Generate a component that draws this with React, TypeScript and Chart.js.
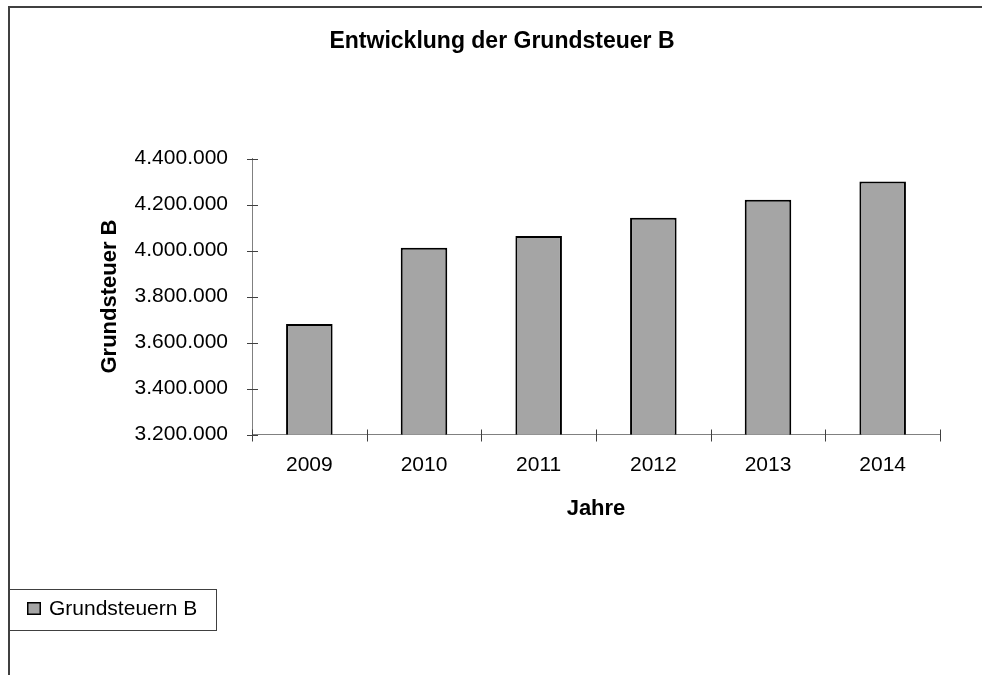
import React, { useEffect, useRef } from 'react';
import { Chart, registerables } from 'chart.js';

Chart.register(...registerables);

// Jahre und Aufkommen der Grundsteuer B
const years = ['2009', '2010', '2011', '2012', '2013', '2014'];
const grundsteuerB = [3680000, 4012000, 4063000, 4142000, 4221000, 4300000];

// Achsenbereich
const yMin = 3200000;
const yMax = 4400000;
const yStep = 200000;

const seriesLabel = 'Grundsteuern B';
const chartTitle = 'Entwicklung der Grundsteuer B';
const yTitle = 'Grundsteuer B';
const xTitle = 'Jahre';

const FONT = "'Liberation Sans', Arial, Helvetica, sans-serif";
const BAR_FILL = '#a5a5a5';
const AXIS_COLOR = '#808080';
const FRAME_COLOR = '#404040';

function formatDe(v: number): string {
  return Math.round(v)
    .toString()
    .replace(/\B(?=(\d{3})+(?!\d))/g, '.');
}

// white page plus the dark frame running along the top and left edge
const framePlugin = {
  id: 'frame',
  beforeDraw(chart: Chart) {
    const { ctx, width, height } = chart;
    ctx.save();
    ctx.fillStyle = '#ffffff';
    ctx.fillRect(0, 0, width, height);
    ctx.fillStyle = FRAME_COLOR;
    ctx.fillRect(8, 6, width - 8, 2);
    ctx.fillRect(8, 6, 2, height - 6);
    ctx.restore();
  },
};

// short tick marks that cross both axes
const crossTicksPlugin = {
  id: 'crossTicks',
  beforeDatasetsDraw(chart: Chart) {
    const { ctx } = chart;
    const ys = chart.scales.y;
    const xs = chart.scales.x;
    ctx.save();
    ctx.strokeStyle = '#404040';
    ctx.lineWidth = 1;
    ctx.beginPath();
    const ax = Math.round(ys.right) + 0.5;
    ys.ticks.forEach((_t, i) => {
      const py = Math.round(ys.getPixelForTick(i)) + 0.5;
      ctx.moveTo(ax - 5.5, py);
      ctx.lineTo(ax + 5.5, py);
    });
    const n = (chart.data.labels || []).length;
    const by = Math.round(xs.top) + 0.5;
    for (let i = 0; i <= n; i++) {
      const px = Math.round(xs.left + (i * xs.width) / n) + 0.5;
      ctx.moveTo(px, by - 6);
      ctx.lineTo(px, by + 6);
    }
    ctx.stroke();
    ctx.restore();
  },
};

// boxed legend in the lower left corner
const boxLegendPlugin = {
  id: 'boxLegend',
  afterDraw(chart: Chart) {
    const { ctx } = chart;
    const ds: any = chart.data.datasets[0];
    ctx.save();
    ctx.strokeStyle = FRAME_COLOR;
    ctx.lineWidth = 1;
    ctx.strokeRect(8.5, 589.5, 208, 41);
    ctx.fillStyle = ds.backgroundColor;
    ctx.fillRect(27, 602, 14, 13);
    ctx.strokeStyle = '#000000';
    ctx.lineWidth = 1.5;
    ctx.strokeRect(27.75, 602.75, 12.5, 11.5);
    ctx.fillStyle = '#000000';
    ctx.font = `21px ${FONT}`;
    ctx.textBaseline = 'middle';
    ctx.textAlign = 'left';
    ctx.fillText(ds.label, 49, 609);
    ctx.restore();
  },
};

export default function App() {
  const canvasRef = useRef<HTMLCanvasElement | null>(null);

  useEffect(() => {
    const canvas = canvasRef.current;
    if (!canvas) return;
    const chart = new Chart(canvas, {
      type: 'bar',
      data: {
        labels: years,
        datasets: [
          {
            label: seriesLabel,
            data: grundsteuerB,
            backgroundColor: BAR_FILL,
            borderColor: '#000000',
            borderWidth: 2,
            borderSkipped: false,
            categoryPercentage: 1,
            barPercentage: 0.406,
          },
        ],
      },
      options: {
        responsive: false,
        animation: false,
        devicePixelRatio: 1,
        layout: {
          padding: { left: 64, right: 42, top: 0, bottom: 140.5 },
        },
        plugins: {
          legend: { display: false },
          tooltip: { enabled: false },
          title: {
            display: true,
            text: chartTitle,
            color: '#000000',
            font: { family: FONT, size: 23, weight: 'bold', lineHeight: 1.2 },
            padding: { top: 28, bottom: 102.9 },
          },
        },
        scales: {
          x: {
            grid: { display: false, drawTicks: false },
            border: { display: true, color: AXIS_COLOR, width: 1 },
            ticks: {
              color: '#000000',
              font: { family: FONT, size: 21 },
              padding: 18,
              maxRotation: 0,
            },
            title: {
              display: true,
              text: xTitle,
              color: '#000000',
              font: { family: FONT, size: 22, weight: 'bold', lineHeight: 1.2 },
              padding: { top: 0, bottom: 12 },
            },
            afterFit: (scale: any) => {
              scale.height = 100;
            },
          },
          y: {
            min: yMin,
            max: yMax,
            grid: { display: false, drawTicks: false },
            border: { display: true, color: AXIS_COLOR, width: 1 },
            ticks: {
              stepSize: yStep,
              color: '#000000',
              font: { family: FONT, size: 21 },
              padding: 24,
              callback: (v: any) => formatDe(Number(v)),
            },
            title: {
              display: true,
              text: yTitle,
              color: '#000000',
              font: { family: FONT, size: 22, weight: 'bold', lineHeight: 1.2 },
              padding: { top: 32.8, bottom: 0 },
            },
            afterFit: (scale: any) => {
              scale.width = 188;
            },
          },
        },
      },
      plugins: [framePlugin, crossTicksPlugin, boxLegendPlugin],
    });
    return () => chart.destroy();
  }, []);

  return (
    <div style={{ position: 'absolute', left: 0, top: 0, width: 982, height: 675 }}>
      <canvas ref={canvasRef} width={982} height={675} style={{ display: 'block' }} />
    </div>
  );
}
